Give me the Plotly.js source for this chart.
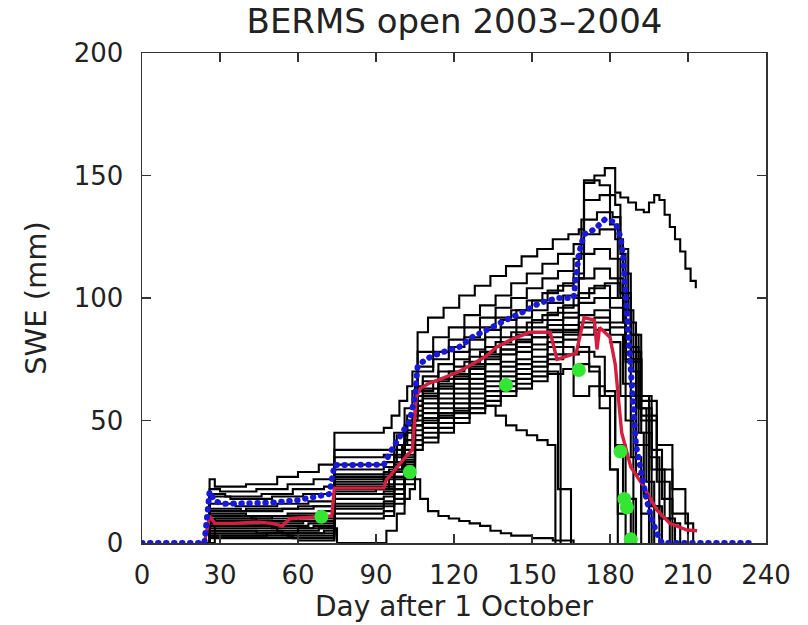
<!DOCTYPE html>
<html>
<head>
<meta charset="utf-8">
<script src="https://cdn.plot.ly/plotly-3.0.1.min.js"></script>
<style>
html,body{margin:0;padding:0;background:#fff;}
#chart{width:808px;height:625px;}
#chart .scatterlayer .trace:nth-child(24) path.js-line{stroke-linecap:round;}
</style>
</head>
<body>
<div id="chart"></div>
<script>
// ---- Ensemble members (black step lines): day after 1 October, SWE (mm)
const m01d = [24,26,28,40,52,60,68,74,93,96,99,102,104,106,110,116,122,128,134,140,146,152,158,164,168,170,174,178,182,184,187,190,193,195,197,199,201,203,205,207,209,211,213];
const m01v = [0,26,23,24,27,29,32,45,47,52,58,64,70,86,92,96,101,105,109,113,117,120,124,126,128,147,150,153,143,141,139,136,135,139,142,140,134,129,124,119,112,107,104];
const m02d = [24,26,30,44,56,66,74,93,97,101,104,106,112,118,124,130,136,142,148,154,160,166,170,176,182,184,186,188,190,192];
const m02v = [0,22,21,22,24,26,38,38,45,55,62,78,84,88,93,97,101,106,110,114,118,122,140,142,138,118,90,60,28,0];
const m03d = [24,26,32,46,58,70,74,93,98,102,106,112,118,124,130,136,142,148,154,160,166,169,175,181,184,187,189,191,193,195];
const m03v = [0,20,19,20,22,23,35,36,44,52,72,78,83,88,92,96,100,104,108,111,116,132,135,133,120,95,70,45,20,0];
const m04d = [24,26,34,50,62,74,93,98,102,106,112,118,124,130,136,142,148,154,160,166,170,176,182,185,188,191,194,197];
const m04v = [0,19,18,19,20,32,33,40,50,70,75,80,84,88,92,95,99,102,105,108,126,128,124,110,85,55,25,0];
const m05d = [24,26,36,52,64,74,93,97,101,105,108,114,120,126,132,138,144,150,156,162,168,174,180,184,188,192,196,200];
const m05v = [0,16,15,16,17,30,31,38,48,62,66,70,75,79,84,88,92,95,98,101,118,120,116,100,75,45,15,0];
const m06d = [24,26,38,54,66,74,93,97,101,105,108,114,120,126,132,138,144,150,156,162,168,174,180,185,190,195,199,203];
const m06v = [0,14,13,14,15,28,29,35,45,60,63,67,72,76,80,84,88,91,94,97,108,112,108,90,60,35,10,0];
const m07d = [24,26,40,56,68,74,93,97,101,105,108,114,120,126,132,138,144,150,156,162,168,174,180,186,191,196,201,205];
const m07v = [0,12,11,12,13,26,27,33,42,58,61,65,69,73,77,81,85,88,91,94,102,105,100,80,55,30,10,0];
const m08d = [24,26,42,58,74,93,97,101,105,108,114,120,126,132,138,144,150,156,162,168,174,180,186,192,198,203,207];
const m08v = [0,11,10,11,25,26,32,40,56,59,63,67,71,75,79,83,86,89,92,98,100,96,78,50,25,8,0];
const m09d = [24,26,44,60,74,93,97,101,105,108,114,120,126,132,138,144,150,156,162,168,174,180,186,192,198,204,210];
const m09v = [0,10,9,10,24,24,30,38,54,57,61,65,69,73,77,80,84,87,89,93,95,90,74,52,30,12,0];
const m10d = [24,26,46,62,74,93,97,101,105,108,114,120,126,132,138,144,150,156,162,168,174,180,186,192,198,204,209,212];
const m10v = [0,9,8,9,23,23,29,36,52,55,59,63,67,70,74,78,81,84,87,90,92,88,75,58,40,22,8,0];
const m11d = [24,26,48,64,74,93,97,101,105,108,114,120,126,132,138,144,150,156,162,168,174,180,185,190,195,199];
const m11v = [0,8,7,8,22,22,27,35,50,53,57,61,65,68,72,75,79,82,85,88,90,85,65,40,15,0];
const m12d = [24,26,50,66,74,93,97,101,105,108,114,120,126,132,138,144,150,156,162,168,174,180,184,188,192,196];
const m12v = [0,7,6,7,20,20,26,33,48,51,55,59,63,66,70,73,76,80,83,85,87,82,60,35,12,0];
const m13d = [24,26,52,68,74,93,97,101,105,108,114,120,126,132,138,144,150,156,162,166,172,178,182,186,190];
const m13v = [0,6,5,6,18,19,24,31,46,49,53,57,61,64,68,71,74,77,80,60,64,62,40,18,0];
const m14d = [24,26,54,70,74,93,97,101,105,108,114,120,126,132,138,144,150,156,162,168,174,178,182,185,188];
const m14v = [0,5,4,5,16,17,22,30,44,47,51,55,59,62,66,69,72,75,77,78,76,60,38,15,0];
const m15d = [24,26,56,74,93,97,101,105,108,114,120,126,132,138,144,150,156,161];
const m15v = [0,4,3,14,15,20,28,42,45,49,53,57,60,64,67,70,73,0];
const m16d = [24,26,58,74,93,97,101,105,108,114,120,126,132,138,144,150,156,160,165];
const m16v = [0,3,2,12,13,18,26,40,43,47,51,55,58,62,65,68,70,22,0];
const m17d = [24,26,60,74,93,97,101,105,108,114,120,126,132,138,144,150,156,162,168,172,176,180,183,186];
const m17v = [0,2,1,10,11,16,24,38,41,45,49,53,56,60,63,66,69,71,73,72,55,30,12,0];
const m18d = [24,26,44,60,75,90,94,98,101,103,105,107,110,114,118,122,126,130,134,138,142,146,150,154,158,162,166];
const m18v = [0,5,4,6,0,0,5,12,18,22,26,18,13,11,10,9,8,7,5,4,3,3,2,2,1,1,0];
const m19d = [24,26,50,74,93,97,101,105,108,114,120,126,132,136,140,144,148,152,156,159];
const m19v = [0,8,9,20,21,27,34,48,50,52,54,55,56,52,48,46,44,42,40,0];
const m20d = [24,26,48,74,93,97,101,105,108,114,120,126,132,138,144,150,156,162,168,172,176,180,183];
const m20v = [0,3,4,15,16,22,32,56,60,64,68,72,76,79,82,84,86,86,80,70,60,30,0];
const m21d = [24,26,40,60,74,93,97,101,105,108,114,120,126,132,138,144,150,156,162,166,170,176,180,183,186,189];
const m21v = [0,13,14,15,27,28,36,46,64,68,73,78,83,87,91,95,99,103,106,110,148,146,130,100,50,0];
const m22d = [24,28,50,74,90,95,100,104,106,112,118,124,130,136,142,148,154,160,166,172,178,184,188,192,196,200,204];
const m22v = [0,10,11,21,22,30,40,52,62,66,70,74,78,82,86,90,93,96,100,104,106,102,85,60,38,18,0];

// ---- Blue dotted curve
const blueDays = [0,24,26,28,32,40,50,60,66,72,74,80,93,96,100,103,105,106,108,111,116,122,127,134,140,146,153,160,166,168,170,174,178,182,184,185,186,187,188,189,190,192,194,196,198,200,205,210,215,220,225,230,236];
const blueSwe  = [0,0,21,17,16,16,16.5,17.5,18.8,20,31.8,32,32,38,45,50,60,72,74,76,78,80,84,88,91,94,98,100,100,118,126,128,132,131,125,118,100,85,70,55,40,28,18,10,4,0,0,0,0,0,0,0,0];

// ---- Red curve
const redDays = [22,24,26,28,35,45,50,54,57,65,73,74,80,93,94,98,102,104,105.5,107,110,115,122,127,132,136.5,142,149,157,159.6,163,167,170,174,175,176,180,182,184.5,188,193,198,203,209.6,213.5];
const redSwe  = [0,0,11,8,8,8.5,8,7,10,10.6,11,22.4,22.5,22.5,25.7,31,36,38,59.6,63,65,67,70,73,76,80,83,86,86,75,76,77.5,92,91,79,88,84,73,45,31,23,13.5,8,5.3,5];

// ---- Green observations
const obsDays = [69,103,140,168,184,185.5,186.5,188];
const obsSwe  = [10.7,29,64.5,70.6,37.3,18,14.5,1.5];

const members = [
  [m01d,m01v],[m02d,m02v],[m03d,m03v],[m04d,m04v],[m05d,m05v],[m06d,m06v],
  [m07d,m07v],[m08d,m08v],[m09d,m09v],[m10d,m10v],[m11d,m11v],[m12d,m12v],
  [m13d,m13v],[m14d,m14v],[m15d,m15v],[m16d,m16v],[m17d,m17v],[m18d,m18v],
  [m19d,m19v],[m20d,m20v],[m21d,m21v],[m22d,m22v]
];

const traces = members.map(function(m){
  return {x:m[0], y:m[1], type:'scatter', mode:'lines',
          line:{color:'#000000', width:2.1, shape:'hv'}, hoverinfo:'skip'};
});
traces.push({x:redDays, y:redSwe, type:'scatter', mode:'lines',
  line:{color:'#d42040', width:3.4}, hoverinfo:'skip'});
traces.push({x:blueDays, y:blueSwe, type:'scatter', mode:'lines',
  line:{color:'#1818d8', width:6, dash:'0.5px,7.5px'}, hoverinfo:'skip'});
traces.push({x:obsDays, y:obsSwe, type:'scatter', mode:'markers',
  marker:{color:'#33e633', size:14}, hoverinfo:'skip'});

const fnt = 'DejaVu Sans, Liberation Sans, sans-serif';
const layout = {
  width:808, height:625,
  margin:{l:142, r:42, t:53, b:82},
  paper_bgcolor:'#ffffff', plot_bgcolor:'#ffffff',
  showlegend:false,
  font:{family:fnt, color:'#222222', size:26},
  title:{text:'BERMS open 2003\u20132004', x:0.5625, xanchor:'center', y:0.966, yanchor:'middle',
         font:{family:fnt, size:34, color:'#222222'}},
  xaxis:{range:[0,240], tickvals:[0,30,60,90,120,150,180,210,240],
         ticks:'inside', ticklen:9, tickwidth:1.5, tickcolor:'#333',
         showline:true, linecolor:'#333', linewidth:1.5, mirror:'ticks',
         showgrid:false, zeroline:false, ticklabelstandoff:8,
         tickfont:{size:26, family:fnt, color:'#222'},
         title:{text:'Day after 1 October', font:{size:28, family:fnt, color:'#222'}, standoff:2}},
  yaxis:{range:[0,200], tickvals:[0,50,100,150,200],
         ticks:'inside', ticklen:9, tickwidth:1.5, tickcolor:'#333',
         showline:true, linecolor:'#333', linewidth:1.5, mirror:'ticks',
         showgrid:false, zeroline:false, ticklabelstandoff:12,
         tickfont:{size:26, family:fnt, color:'#222'},
         title:{text:'SWE (mm)', font:{size:29, family:fnt, color:'#222'}, standoff:18}}
};
Plotly.newPlot('chart', traces, layout, {staticPlot:true, displayModeBar:false});
</script>
</body>
</html>
